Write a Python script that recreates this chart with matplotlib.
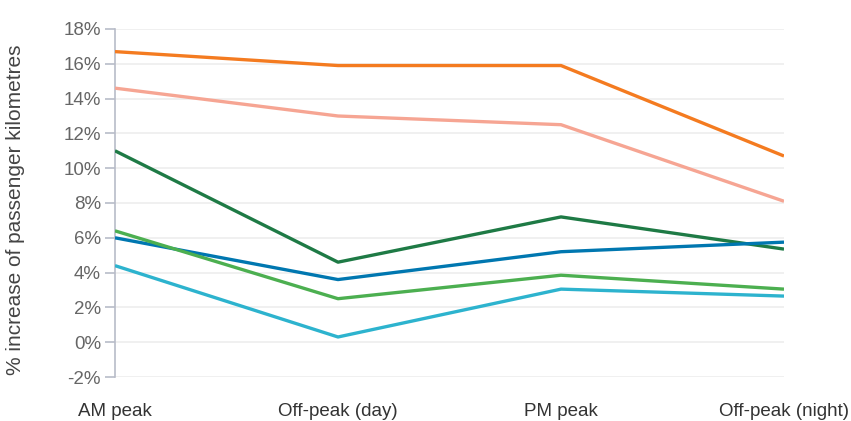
import matplotlib
matplotlib.use("Agg")
import matplotlib.pyplot as plt
from matplotlib.ticker import FuncFormatter

categories = ["AM peak", "Off-peak (day)", "PM peak", "Off-peak (night)"]
orange = [16.7, 15.9, 15.9, 10.7]
salmon = [14.6, 13.0, 12.5, 8.1]
dark_green = [11.0, 4.6, 7.2, 5.35]
blue = [6.0, 3.6, 5.2, 5.75]
green = [6.4, 2.5, 3.85, 3.05]
light_blue = [4.4, 0.3, 3.05, 2.65]
y_ticks = list(range(-2, 19, 2))

series = [
    (orange, "#F47B20"),
    (salmon, "#F6A593"),
    (dark_green, "#1E7A45"),
    (blue, "#0077B0"),
    (green, "#4CAF50"),
    (light_blue, "#2DB3CE"),
]

plt.rcParams['font.family'] = ['Liberation Sans', 'DejaVu Sans']
fig = plt.figure(figsize=(8.51, 4.21), dpi=100)
ax = fig.add_axes([115/851, 44/421, (784-115)/851, (377-29)/421])

x = list(range(len(categories)))
for vals, col in series:
    ax.plot(x, vals, color=col, lw=2.4, solid_capstyle='butt', zorder=3)

ax.set_xlim(0, 3)
ax.set_ylim(-2, 18)
ax.set_yticks(y_ticks)
ax.yaxis.set_major_formatter(FuncFormatter(lambda v, p: f"{int(v)}%"))
ax.set_xticks(x)
ax.set_xticklabels(categories)
for s in ['top', 'right', 'bottom']:
    ax.spines[s].set_visible(False)
ax.spines['left'].set_color('#B8BCC8')
ax.spines['left'].set_linewidth(1.2)
ax.grid(axis='y', color='#EEEEEE', lw=1.2, zorder=0)
ax.tick_params(axis='y', length=7, width=1.2, color='#B8BCC8', labelsize=13.5, labelcolor='#666666', pad=3)
ax.tick_params(axis='x', length=0, labelsize=13.5, labelcolor='#333333', pad=19)
ax.set_ylabel("% increase of passenger kilometres", fontsize=15, color='#444444')
ax.yaxis.set_label_coords(-0.135, 0.48)

fig.savefig("out.png", dpi=100)
